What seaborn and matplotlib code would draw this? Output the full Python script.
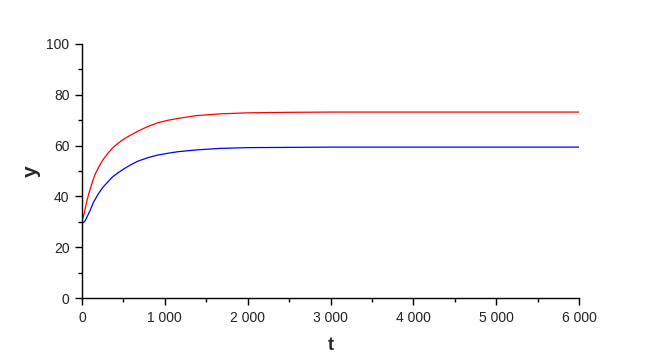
import numpy as np
import pandas as pd
import seaborn as sns
import matplotlib.pyplot as plt
from matplotlib.ticker import MultipleLocator, FuncFormatter

# values
t = [0, 15, 32, 50, 72, 100, 133, 160, 193, 250, 314, 370, 435, 500, 580, 676,
     800, 918, 1040, 1160, 1381, 1667, 2000, 2500, 3000, 4000, 5000, 6000]
y_red = [30.0, 32.0, 34.0, 37.0, 39.9, 43.0, 46.5, 48.8, 51.0, 54.3, 57.0, 59.1,
         60.9, 62.5, 64.0, 65.7, 67.6, 69.0, 70.0, 70.7, 71.8, 72.5, 72.9, 73.1,
         73.2, 73.2, 73.2, 73.2]
y_blue = [29.5, 29.7, 30.1, 31.2, 32.7, 34.6, 37.3, 38.9, 40.8, 43.5, 45.8, 47.7,
          49.3, 50.7, 52.3, 53.9, 55.3, 56.3, 57.0, 57.6, 58.3, 58.9, 59.2, 59.3,
          59.4, 59.4, 59.4, 59.4]

df = pd.DataFrame({"t": t * 2,
                   "y": y_red + y_blue,
                   "series": ["red"] * len(t) + ["blue"] * len(t)})

sns.set_style("ticks")
plt.rcParams['font.family'] = ['Liberation Sans', 'DejaVu Sans']

fig = plt.figure(figsize=(6.63, 3.6), dpi=100)
ax = fig.add_axes([82 / 663, 1 - 298 / 360, (579 - 82) / 663, (298 - 44) / 360])

sns.lineplot(data=df, x="t", y="y", hue="series",
             palette={"red": "#ff0000", "blue": "#0000ff"},
             linewidth=0.9, legend=False, ax=ax)

ax.set_xlim(0, 6000)
ax.set_ylim(0, 100)
ax.xaxis.set_major_locator(MultipleLocator(1000))
ax.xaxis.set_minor_locator(MultipleLocator(500))
ax.yaxis.set_major_locator(MultipleLocator(20))
ax.yaxis.set_minor_locator(MultipleLocator(10))
ax.xaxis.set_major_formatter(FuncFormatter(lambda v, p: f"{int(v):,}".replace(",", " ")))

sns.despine(ax=ax)
for s in ["left", "bottom"]:
    ax.spines[s].set_linewidth(1.0)
    ax.spines[s].set_color("black")
ax.tick_params(which="major", length=5, width=1, color="black", labelsize=10,
               labelcolor="#222222", pad=4)
ax.tick_params(which="minor", length=3, width=1, color="black")

ax.set_xlabel("t", fontsize=13, fontweight="bold", labelpad=9)
ax.set_ylabel("y", fontsize=15, fontweight="bold", labelpad=4)

fig.savefig("out.png", dpi=100)
